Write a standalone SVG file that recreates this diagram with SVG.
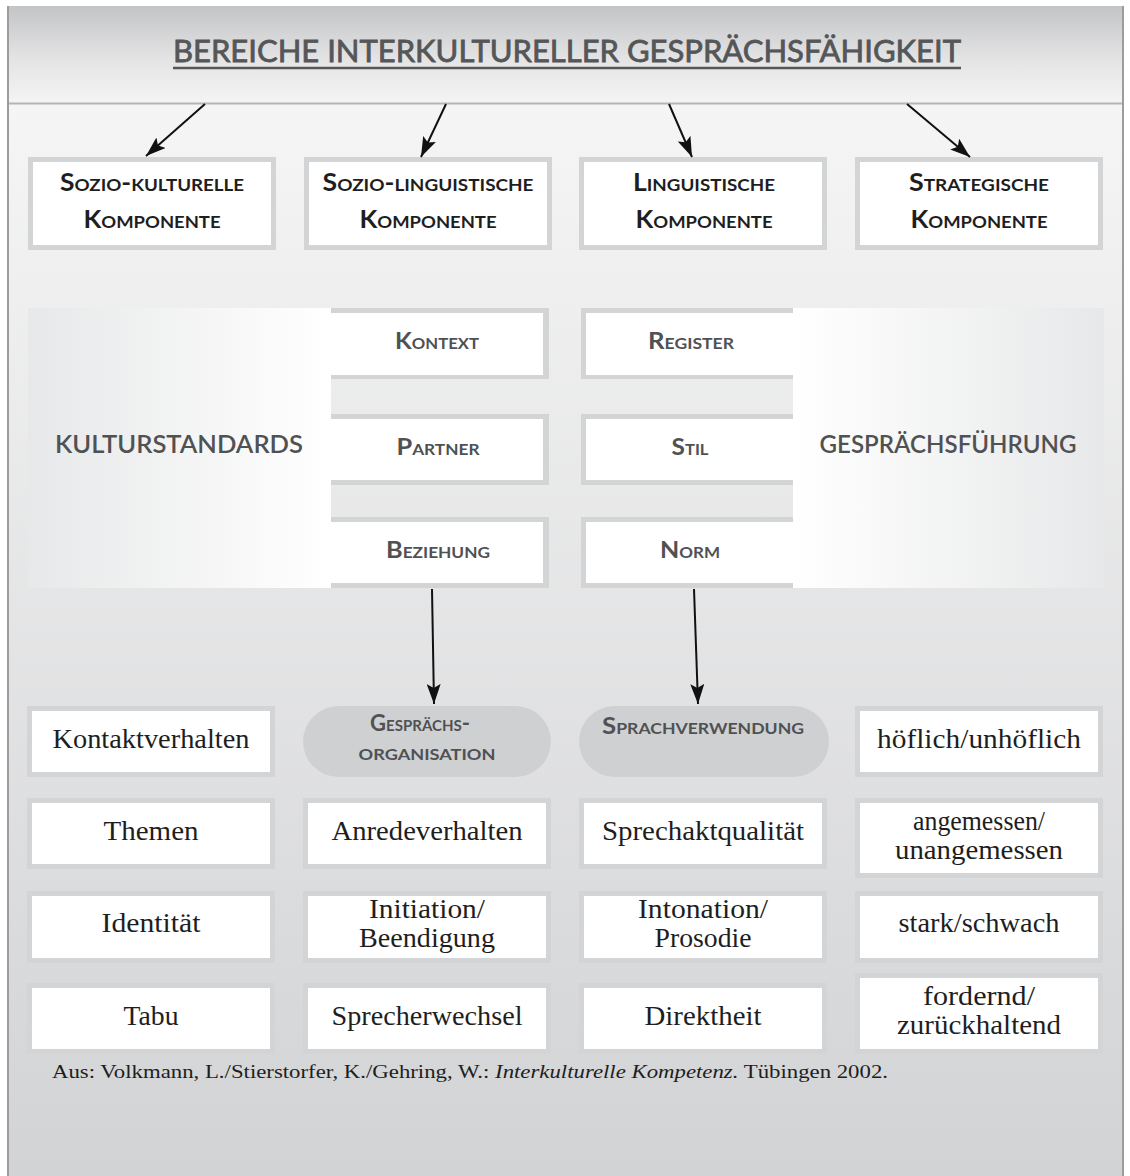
<svg xmlns="http://www.w3.org/2000/svg" width="1130" height="1176" viewBox="0 0 1130 1176">
<defs>
  <linearGradient id="gHead" x1="0" y1="6" x2="0" y2="103" gradientUnits="userSpaceOnUse">
    <stop offset="0" stop-color="#c3c4c6"/>
    <stop offset="0.55" stop-color="#e4e4e5"/>
    <stop offset="1" stop-color="#f4f4f4"/>
  </linearGradient>
  <linearGradient id="gBody" x1="0" y1="104" x2="0" y2="1176" gradientUnits="userSpaceOnUse">
    <stop offset="0" stop-color="#f5f5f5"/>
    <stop offset="1" stop-color="#d2d3d5"/>
  </linearGradient>
  <linearGradient id="gLeft" x1="28" y1="0" x2="331" y2="0" gradientUnits="userSpaceOnUse">
    <stop offset="0" stop-color="#e7e8e9"/>
    <stop offset="1" stop-color="#ffffff"/>
  </linearGradient>
  <linearGradient id="gRight" x1="793" y1="0" x2="1104" y2="0" gradientUnits="userSpaceOnUse">
    <stop offset="0" stop-color="#ffffff"/>
    <stop offset="1" stop-color="#e7e8e9"/>
  </linearGradient>
  <marker id="ah" markerUnits="userSpaceOnUse" markerWidth="22" markerHeight="14" refX="20" refY="7" orient="auto">
    <path d="M0,0 L20,7 L0,14 L4,7 z" fill="#111"/>
  </marker>
</defs>
<style>
  .box { fill: #ffffff; stroke: #d3d4d6; stroke-width: 5; }
  .pill { fill: #cfd0d2; }
  .comp { font-family: Lato, "Liberation Sans", sans-serif; font-weight: 700; font-size: 24px; fill: #1e1e1e; font-variant: small-caps; text-anchor: middle; }
  .mid { font-family: Lato, "Liberation Sans", sans-serif; font-weight: 700; font-size: 22px; fill: #505153; font-variant: small-caps; text-anchor: middle; }
  .panel { font-family: Lato, "Liberation Sans", sans-serif; font-weight: 600; font-size: 25px; fill: #505153; text-anchor: middle; }
  .ser { font-family: "Liberation Serif", "Times New Roman", serif; font-size: 27px; fill: #1e1e1e; text-anchor: middle; }
  .cite { font-family: "Liberation Serif", "Times New Roman", serif; font-size: 19px; fill: #1e1e1e; }
  .conn { stroke: #111; stroke-width: 2; fill: none; marker-end: url(#ah); }
</style>

<!-- frame -->
<rect x="7" y="6" width="1117" height="98" fill="url(#gHead)"/>
<rect x="7" y="104" width="1117" height="1072" fill="url(#gBody)"/>
<line x1="7" y1="103.5" x2="1124" y2="103.5" stroke="#b4b5b7" stroke-width="2"/>
<line x1="8" y1="6" x2="8" y2="1176" stroke="#9c9c9e" stroke-width="2"/>
<line x1="1123" y1="6" x2="1123" y2="1176" stroke="#9c9c9e" stroke-width="2"/>

<g id="title">
  <text x="567" y="62" font-family="Lato, 'Liberation Sans', sans-serif" font-size="31" fill="#555658" stroke="#555658" stroke-width="0.8" text-anchor="middle" textLength="788" lengthAdjust="spacingAndGlyphs">BEREICHE INTERKULTURELLER GESPRÄCHSFÄHIGKEIT</text>
  <line x1="173" y1="68" x2="961" y2="68" stroke="#555658" stroke-width="2.5"/>
</g>

<!-- top components -->
<g id="soziokulturell">
  <rect class="box" x="30.5" y="159.5" width="243" height="88"/>
  <text class="comp" x="152" y="191" textLength="184" lengthAdjust="spacingAndGlyphs">Sozio-kulturelle</text>
  <text class="comp" x="152" y="228" textLength="137" lengthAdjust="spacingAndGlyphs">Komponente</text>
</g>
<g id="soziolinguistisch">
  <rect class="box" x="306.5" y="159.5" width="243" height="88"/>
  <text class="comp" x="428" y="191" textLength="211" lengthAdjust="spacingAndGlyphs">Sozio-linguistische</text>
  <text class="comp" x="428" y="228" textLength="137" lengthAdjust="spacingAndGlyphs">Komponente</text>
</g>
<g id="linguistisch">
  <rect class="box" x="581.5" y="159.5" width="243" height="88"/>
  <text class="comp" x="704" y="191" textLength="142" lengthAdjust="spacingAndGlyphs">Linguistische</text>
  <text class="comp" x="704" y="228" textLength="137" lengthAdjust="spacingAndGlyphs">Komponente</text>
</g>
<g id="strategisch">
  <rect class="box" x="857.5" y="159.5" width="243" height="88"/>
  <text class="comp" x="979" y="191" textLength="140" lengthAdjust="spacingAndGlyphs">Strategische</text>
  <text class="comp" x="979" y="228" textLength="137" lengthAdjust="spacingAndGlyphs">Komponente</text>
</g>

<!-- middle panels -->
<g id="kulturstandards">
  <rect x="28" y="308" width="303" height="280" fill="url(#gLeft)"/>
  <text class="panel" x="179" y="453" textLength="248" lengthAdjust="spacingAndGlyphs">KULTURSTANDARDS</text>
</g>
<g id="gespraechsfuehrung">
  <rect x="793" y="308" width="311" height="280" fill="url(#gRight)"/>
  <text class="panel" x="948" y="453" textLength="257" lengthAdjust="spacingAndGlyphs">GESPRÄCHSFÜHRUNG</text>
</g>

<g id="kontext">
  <rect x="331" y="308" width="218" height="71" fill="#d3d4d6"/>
  <rect x="331" y="313" width="212" height="62" fill="#ffffff"/>
  <text class="mid" x="437" y="349" textLength="84" lengthAdjust="spacingAndGlyphs">Kontext</text>
</g>
<g id="partner">
  <rect x="331" y="414" width="218" height="71" fill="#d3d4d6"/>
  <rect x="331" y="419" width="212" height="61" fill="#ffffff"/>
  <text class="mid" x="438" y="455" textLength="83" lengthAdjust="spacingAndGlyphs">Partner</text>
</g>
<g id="beziehung">
  <rect x="331" y="517" width="218" height="71" fill="#d3d4d6"/>
  <rect x="331" y="522" width="212" height="61" fill="#ffffff"/>
  <text class="mid" x="438" y="558" textLength="104" lengthAdjust="spacingAndGlyphs">Beziehung</text>
</g>
<g id="register">
  <rect x="581" y="308" width="212" height="71" fill="#d3d4d6"/>
  <rect x="586" y="313" width="207" height="62" fill="#ffffff"/>
  <text class="mid" x="691" y="349" textLength="86" lengthAdjust="spacingAndGlyphs">Register</text>
</g>
<g id="stil">
  <rect x="581" y="414" width="212" height="71" fill="#d3d4d6"/>
  <rect x="586" y="419" width="207" height="61" fill="#ffffff"/>
  <text class="mid" x="690" y="455" textLength="37" lengthAdjust="spacingAndGlyphs">Stil</text>
</g>
<g id="norm">
  <rect x="581" y="517" width="212" height="71" fill="#d3d4d6"/>
  <rect x="586" y="522" width="207" height="61" fill="#ffffff"/>
  <text class="mid" x="690" y="558" textLength="60" lengthAdjust="spacingAndGlyphs">Norm</text>
</g>

<!-- connectors -->
<g id="connectors">
  <line class="conn" x1="205" y1="104" x2="146" y2="156"/>
  <line class="conn" x1="446" y1="104" x2="421" y2="157"/>
  <line class="conn" x1="669" y1="104" x2="692" y2="157"/>
  <line class="conn" x1="907" y1="104" x2="970" y2="157"/>
  <line class="conn" x1="432" y1="589" x2="434" y2="704"/>
  <line class="conn" x1="694" y1="589" x2="698" y2="704"/>
</g>

<!-- row 1 -->
<g id="kontaktverhalten">
  <rect class="box" x="29.5" y="708.5" width="243" height="66"/>
  <text class="ser" x="151" y="748" textLength="197" lengthAdjust="spacingAndGlyphs">Kontaktverhalten</text>
</g>
<g id="gespraechsorganisation">
  <rect class="pill" x="303" y="706" width="248" height="71" rx="35.5"/>
  <text class="mid" x="420" y="731" font-size="20" textLength="100" lengthAdjust="spacingAndGlyphs">Gesprächs-</text>
  <text class="mid" x="427" y="760" font-size="20" textLength="137" lengthAdjust="spacingAndGlyphs">organisation</text>
</g>
<g id="sprachverwendung">
  <rect class="pill" x="579" y="706" width="250" height="71" rx="35.5"/>
  <text class="mid" x="703" y="734" font-size="21" textLength="202" lengthAdjust="spacingAndGlyphs">Sprachverwendung</text>
</g>
<g id="hoeflich">
  <rect class="box" x="857.5" y="708.5" width="243" height="66"/>
  <text class="ser" x="979" y="748" textLength="204" lengthAdjust="spacingAndGlyphs">höflich/unhöflich</text>
</g>

<!-- row 2 -->
<g id="themen">
  <rect class="box" x="29.5" y="800.5" width="243" height="66"/>
  <text class="ser" x="151" y="840" textLength="95" lengthAdjust="spacingAndGlyphs">Themen</text>
</g>
<g id="anredeverhalten">
  <rect class="box" x="305.5" y="800.5" width="243" height="66"/>
  <text class="ser" x="427" y="840" textLength="191" lengthAdjust="spacingAndGlyphs">Anredeverhalten</text>
</g>
<g id="sprechaktqualitaet">
  <rect class="box" x="581.5" y="800.5" width="243" height="66"/>
  <text class="ser" x="703" y="840" textLength="202" lengthAdjust="spacingAndGlyphs">Sprechaktqualität</text>
</g>
<g id="angemessen">
  <rect class="box" x="857.5" y="800.5" width="243" height="75"/>
  <text class="ser" x="979" y="830" textLength="132" lengthAdjust="spacingAndGlyphs">angemessen/</text>
  <text class="ser" x="979" y="859" textLength="168" lengthAdjust="spacingAndGlyphs">unangemessen</text>
</g>

<!-- row 3 -->
<g id="identitaet">
  <rect class="box" x="29.5" y="893.5" width="243" height="67"/>
  <text class="ser" x="151" y="932" textLength="99" lengthAdjust="spacingAndGlyphs">Identität</text>
</g>
<g id="initiation">
  <rect class="box" x="305.5" y="893.5" width="243" height="67"/>
  <text class="ser" x="427" y="918" textLength="116" lengthAdjust="spacingAndGlyphs">Initiation/</text>
  <text class="ser" x="427" y="947" textLength="136" lengthAdjust="spacingAndGlyphs">Beendigung</text>
</g>
<g id="intonation">
  <rect class="box" x="581.5" y="893.5" width="243" height="67"/>
  <text class="ser" x="703" y="918" textLength="130" lengthAdjust="spacingAndGlyphs">Intonation/</text>
  <text class="ser" x="703" y="947" textLength="97" lengthAdjust="spacingAndGlyphs">Prosodie</text>
</g>
<g id="stark">
  <rect class="box" x="857.5" y="893.5" width="243" height="67"/>
  <text class="ser" x="979" y="932" textLength="161" lengthAdjust="spacingAndGlyphs">stark/schwach</text>
</g>

<!-- row 4 -->
<g id="tabu">
  <rect class="box" x="29.5" y="985.5" width="243" height="66"/>
  <text class="ser" x="151" y="1025" textLength="55" lengthAdjust="spacingAndGlyphs">Tabu</text>
</g>
<g id="sprecherwechsel">
  <rect class="box" x="305.5" y="985.5" width="243" height="66"/>
  <text class="ser" x="427" y="1025" textLength="191" lengthAdjust="spacingAndGlyphs">Sprecherwechsel</text>
</g>
<g id="direktheit">
  <rect class="box" x="581.5" y="985.5" width="243" height="66"/>
  <text class="ser" x="703" y="1025" textLength="117" lengthAdjust="spacingAndGlyphs">Direktheit</text>
</g>
<g id="fordernd">
  <rect class="box" x="857.5" y="975.5" width="243" height="76"/>
  <text class="ser" x="979" y="1005" textLength="112" lengthAdjust="spacingAndGlyphs">fordernd/</text>
  <text class="ser" x="979" y="1034" textLength="164" lengthAdjust="spacingAndGlyphs">zurückhaltend</text>
</g>

<g id="citation">
  <text class="cite" x="52" y="1078" textLength="836" lengthAdjust="spacingAndGlyphs">Aus: Volkmann, L./Stierstorfer, K./Gehring, W.: <tspan font-style="italic">Interkulturelle Kompetenz.</tspan> Tübingen 2002.</text>
</g>
</svg>
